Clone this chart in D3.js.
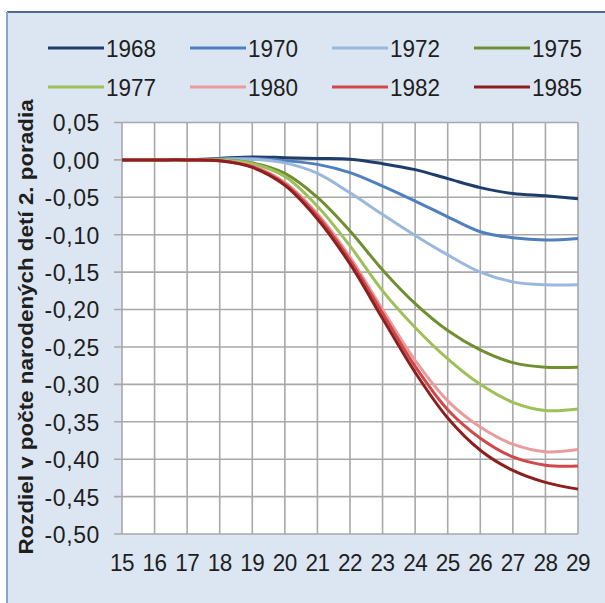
<!DOCTYPE html>
<html>
<head>
<meta charset="utf-8">
<script src="https://cdn.jsdelivr.net/npm/d3@7"></script>
<style>
  html, body { margin: 0; padding: 0; background: #ffffff; }
  svg { display: block; }
  text { font-family: "Liberation Sans", Arial, sans-serif; }
</style>
</head>
<body>
<svg id="chart" width="605" height="603"></svg>
<script>
// ---- data ----
const ages = [15, 16, 17, 18, 19, 20, 21, 22, 23, 24, 25, 26, 27, 28, 29];
const yTicks = [0.05, 0, -0.05, -0.10, -0.15, -0.20, -0.25, -0.30, -0.35, -0.40, -0.45, -0.50];
const seriesNames = ["1968", "1970", "1972", "1975", "1977", "1980", "1982", "1985"];
const s1968 = [0, 0, 0, 0.002, 0.004, 0.003, 0.002, 0.001, -0.005, -0.013, -0.025, -0.037, -0.045, -0.048, -0.052];
const s1970 = [0, 0, 0, 0.001, 0.002, -0.001, -0.006, -0.017, -0.035, -0.055, -0.076, -0.096, -0.104, -0.107, -0.105];
const s1972 = [0, 0, 0, 0.001, 0.001, -0.004, -0.018, -0.044, -0.073, -0.101, -0.127, -0.150, -0.163, -0.167, -0.167];
const s1975 = [0, 0, 0, 0, -0.004, -0.018, -0.050, -0.095, -0.147, -0.192, -0.228, -0.254, -0.271, -0.277, -0.277];
const s1977 = [0, 0, 0, 0, -0.005, -0.022, -0.062, -0.115, -0.175, -0.224, -0.266, -0.300, -0.324, -0.335, -0.333];
const s1980 = [0, 0, 0, -0.001, -0.008, -0.030, -0.072, -0.130, -0.200, -0.268, -0.322, -0.357, -0.380, -0.390, -0.387];
const s1982 = [0, 0, 0, -0.001, -0.009, -0.032, -0.075, -0.134, -0.205, -0.276, -0.334, -0.372, -0.397, -0.408, -0.409];
const s1985 = [0, 0, 0, -0.001, -0.010, -0.034, -0.079, -0.139, -0.212, -0.284, -0.345, -0.388, -0.415, -0.431, -0.440];
const seriesValues = [s1968, s1970, s1972, s1975, s1977, s1980, s1982, s1985];
const seriesColors = ["#1f3d6b", "#4f7fbd", "#9ab7dc", "#6f8f30", "#9dc05a", "#e89c9c", "#d0484a", "#8c2020"];
const yTitle = "Rozdiel v počte narodených detí 2. poradia";

// ---- layout ----
const svg = d3.select("#chart");
const W = 605, H = 603;
const plot = { left: 122, right: 578, top: 122.5, bottom: 534 };

// frame background
svg.append("rect").attr("x", 7).attr("y", 12).attr("width", W).attr("height", H)
  .attr("fill", "#dce6f2");
svg.append("line").attr("x1", 7).attr("x2", W).attr("y1", 12).attr("y2", 12)
  .attr("stroke", "#52698f").attr("stroke-width", 2);
svg.append("line").attr("x1", 7).attr("x2", 7).attr("y1", 12).attr("y2", H)
  .attr("stroke", "#86a6d2").attr("stroke-width", 2);

const x = d3.scalePoint().domain(ages).range([plot.left, plot.right]);
const y = d3.scaleLinear().domain([-0.5, 0.05]).range([plot.bottom, plot.top]);

// plot area
svg.append("rect").attr("x", plot.left).attr("y", plot.top)
  .attr("width", plot.right - plot.left).attr("height", plot.bottom - plot.top)
  .attr("fill", "#ffffff");

// grid: vertical
svg.append("g").selectAll("line").data(ages).join("line")
  .attr("x1", d => x(d)).attr("x2", d => x(d))
  .attr("y1", plot.top).attr("y2", plot.bottom)
  .attr("stroke", "#a8a8a8").attr("stroke-width", 1.6);

// grid: horizontal (with tick stubs to the left)
svg.append("g").selectAll("line").data(yTicks).join("line")
  .attr("x1", plot.left - 8).attr("x2", plot.right)
  .attr("y1", d => y(d)).attr("y2", d => y(d))
  .attr("stroke", "#a8a8a8").attr("stroke-width", 1.6);

// y axis labels
const fmt = d => d3.format(".2f")(d).replace("−", "-").replace(".", ",");
svg.append("g").selectAll("text").data(yTicks).join("text")
  .attr("transform", d => `translate(100,${y(d)}) scale(1,1.08)`)
  .attr("dy", "0.36em")
  .attr("text-anchor", "end").attr("font-size", 23).attr("fill", "#1e1e1e")
  .attr("letter-spacing", 0.6)
  .text(d => fmt(Math.abs(d) < 1e-9 ? 0 : d));

// x axis labels
svg.append("g").selectAll("text").data(ages).join("text")
  .attr("transform", d => `translate(${x(d)},571) scale(1,1.1)`)
  .attr("text-anchor", "middle").attr("font-size", 22.5).attr("fill", "#1e1e1e")
  .attr("letter-spacing", -0.5)
  .text(d => d);

// y title
svg.append("text")
  .attr("transform", "translate(33,327) rotate(-90) scale(1.12,1)")
  .attr("text-anchor", "middle").attr("font-size", 20).attr("font-weight", "bold")
  .attr("fill", "#1e1e1e")
  .text(yTitle);

// lines
const line = d3.line()
  .x((d, i) => x(ages[i]))
  .y(d => y(d))
  .curve(d3.curveCatmullRom.alpha(0.5));

svg.append("g").selectAll("path").data(seriesValues).join("path")
  .attr("d", d => line(d))
  .attr("fill", "none")
  .attr("stroke", (d, i) => seriesColors[i])
  .attr("stroke-width", 3)
  .attr("stroke-linejoin", "round");

// legend
const legend = svg.append("g");
const legItems = legend.selectAll("g").data(seriesNames).join("g")
  .attr("transform", (d, i) => `translate(${48 + (i % 4) * 142},${i < 4 ? 48 : 87})`);
legItems.append("line")
  .attr("x1", 0).attr("x2", 56).attr("y1", 0).attr("y2", 0)
  .attr("stroke", (d, i) => seriesColors[i]).attr("stroke-width", 3);
legItems.append("text")
  .attr("transform", "translate(58,0) scale(1,1.1)")
  .attr("dy", "0.36em")
  .attr("font-size", 22.5).attr("fill", "#1e1e1e")
  .text(d => d);
</script>
</body>
</html>
